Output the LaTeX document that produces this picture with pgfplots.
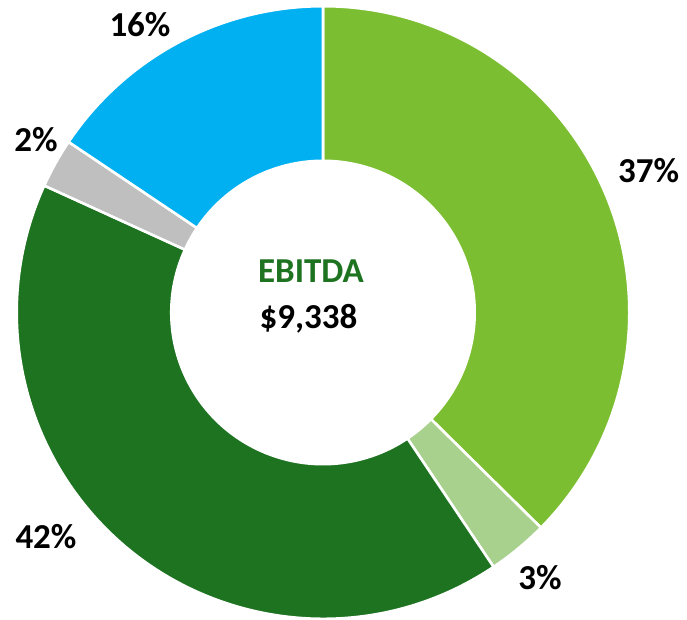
\documentclass[border=0pt]{standalone}
\usepackage{pgfplots}
\pgfplotsset{compat=1.18}
\usepackage{pgfplotstable}
\usepackage{fontspec}
\setmainfont{Carlito}
\definecolor{cLight}{HTML}{7CBE31}
\definecolor{cPale}{HTML}{A9D18E}
\definecolor{cDark}{HTML}{1E7321}
\definecolor{cGrey}{HTML}{BFBFBF}
\definecolor{cBlue}{HTML}{00B0F0}
\pgfplotstableread{
value color
37.4 cLight
3.2 cPale
41.2 cDark
2.6 cGrey
15.6 cBlue
}\donutdata
\tikzset{lab/.style={font=\fontsize{35}{40}\selectfont\bfseries, inner sep=0pt, text depth=0pt}}
\begin{document}
\begin{tikzpicture}
\def\cx{323}\def\cy{307.5}
\def\rout{306.3pt}\def\rin{151.7pt}
\pgfmathsetmacro\cum{0}
\pgfplotsforeachungrouped \i in {0,...,4}{%
  \pgfplotstablegetelem{\i}{value}\of\donutdata
  \let\val\pgfplotsretval
  \pgfplotstablegetelem{\i}{color}\of\donutdata
  \expandafter\xdef\csname colS\i\endcsname{\pgfplotsretval}%
  \pgfmathsetmacro\a{90-3.6*\cum}%
  \pgfmathsetmacro\cum{\cum+\val}%
  \pgfmathsetmacro\b{90-3.6*\cum}%
  \expandafter\xdef\csname angA\i\endcsname{\a}%
  \expandafter\xdef\csname angB\i\endcsname{\b}%
}
\begin{axis}[
  scale only axis, width=687pt, height=620pt,
  xmin=0, xmax=687, ymin=0, ymax=620,
  hide axis, clip=false,
]
\addplot[draw=none, forget plot] coordinates {(0,0) (687,620)};
\coordinate (BL) at (rel axis cs:0,0);
\coordinate (TR) at (rel axis cs:1,1);
\pgfplotsinvokeforeach{0,...,4}{
  \fill[fill=\csname colS#1\endcsname, draw=white, line width=2.6pt, line join=miter]
    (axis cs:\cx,\cy) ++(\csname angA#1\endcsname:\rout)
    arc[start angle=\csname angA#1\endcsname, end angle=\csname angB#1\endcsname, radius=\rout]
    -- ([shift={(\csname angB#1\endcsname:\rin)}]axis cs:\cx,\cy)
    arc[start angle=\csname angB#1\endcsname, end angle=\csname angA#1\endcsname, radius=\rin]
    -- cycle;
}
\node[lab] at (axis cs:648.5,449.5) {37\%};
\node[lab] at (axis cs:540,43) {3\%};
\node[lab] at (axis cs:46,84) {42\%};
\node[lab] at (axis cs:36,481) {2\%};
\node[lab] at (axis cs:140,595.5) {16\%};
\node[lab, text=cDark] at (axis cs:311,348.5) {EBITDA};
\node[lab] at (axis cs:308.5,304) {\$9,338};
\end{axis}
\pgfresetboundingbox
\useasboundingbox (BL) rectangle (TR);
\end{tikzpicture}
\end{document}
